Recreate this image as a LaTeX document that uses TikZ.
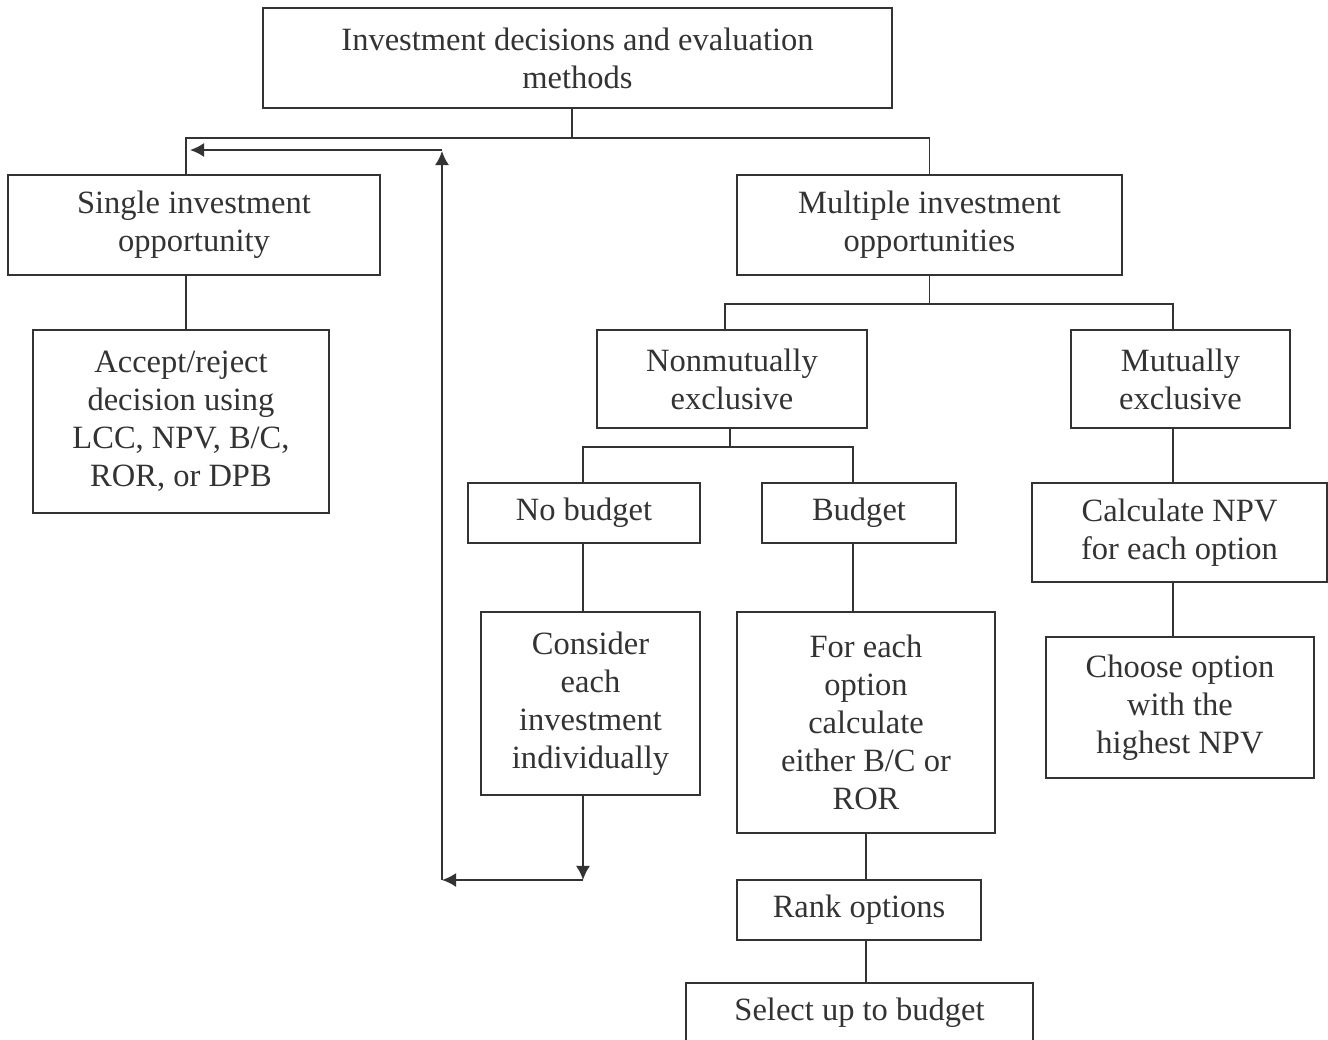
\documentclass[tikz,border=0pt]{standalone}
\usepackage{fontspec}
\setmainfont{Liberation Serif}
\usetikzlibrary{arrows.meta,positioning}
\definecolor{inkgray}{HTML}{333333}

\begin{document}
\begin{tikzpicture}[x=0.02cm,y=-0.02cm,
  box/.style={draw=inkgray, line width=1.1pt, align=center, inner sep=0pt,
    text=inkgray, font=\fontsize{18.5}{21.6}\selectfont},
  link/.style={draw=inkgray, line width=1.1pt},
  back/.style={link, -{Latex[length=8pt,width=8pt]}}]
  \useasboundingbox (0,0) rectangle (1328,1040);

  % Boxes of the tree
  \node[box, minimum width=12.58cm, minimum height=2cm] (top) at (577.5,58)
    {Investment decisions and evaluation\\methods};
  \node[box, minimum width=7.44cm, minimum height=2cm] (single) at (194,225)
    {Single investment\\opportunity};
  \node[box, minimum width=5.92cm, minimum height=3.66cm] (accept) at (181,421.5)
    {Accept/reject\\decision using\\LCC, NPV, B/C,\\ROR, or DPB};
  \node[box, minimum width=7.7cm, minimum height=2cm] (multi) at (929.5,225)
    {Multiple investment\\opportunities};
  \node[box, minimum width=5.4cm, minimum height=1.96cm] (nonmut) at (732,379)
    {Nonmutually\\exclusive};
  \node[box, minimum width=4.38cm, minimum height=1.96cm] (mut) at (1180.5,379)
    {Mutually\\exclusive};
  \node[box, minimum width=4.64cm, minimum height=1.2cm] (nobud) at (584,513)
    {No budget};
  \node[box, minimum width=3.88cm, minimum height=1.2cm] (bud) at (859,513)
    {Budget};
  \node[box, minimum width=5.9cm, minimum height=1.98cm] (calc) at (1179.5,532.5)
    {Calculate NPV\\for each option};
  \node[box, minimum width=4.38cm, minimum height=3.66cm] (consider) at (590.5,703.5)
    {Consider\\each\\investment\\individually};
  \node[box, minimum width=5.16cm, minimum height=4.42cm] (foreach) at (866,722.5)
    {For each\\option\\calculate\\either B/C or\\ROR};
  \node[box, minimum width=5.36cm, minimum height=2.82cm] (choose) at (1180,707.5)
    {Choose option\\with the\\highest NPV};
  \node[box, minimum width=4.88cm, minimum height=1.2cm] (rank) at (859,910)
    {Rank options};
  \node[box, minimum width=6.94cm, minimum height=1.2cm] (select) at (859.5,1013)
    {Select up to budget};

  % Tree links
  \draw[link] ([xshift=-0.11cm]top.south) -- +(0,29) -| ([xshift=-0.16cm]single.north);
  \draw[link] ([xshift=-0.11cm]top.south) -- +(0,29) -| (multi.north);
  \draw[link] ([xshift=-0.16cm]single.south) -- ([xshift=-0.16cm]single.south |- accept.north);
  \draw[link] (multi.south) -- +(0,28) -| ([xshift=-0.14cm]nonmut.north);
  \draw[link] (multi.south) -- +(0,28) -| ([xshift=-0.15cm]mut.north);
  \draw[link] ([xshift=-0.04cm]nonmut.south) -- +(0,18) -| ([xshift=-0.02cm]nobud.north);
  \draw[link] ([xshift=-0.04cm]nonmut.south) -- +(0,18) -| ([xshift=-0.12cm]bud.north);
  \draw[link] ([xshift=-0.15cm]mut.south) -- ([xshift=-0.15cm]mut.south |- calc.north);
  \draw[link] ([xshift=-0.15cm]mut.south |- calc.south) -- ([xshift=-0.15cm]mut.south |- choose.north);
  \draw[link] ([xshift=-0.02cm]nobud.south) -- ([xshift=-0.02cm]nobud.south |- consider.north);
  \draw[link] ([xshift=-0.12cm]bud.south) -- ([xshift=-0.12cm]bud.south |- foreach.north);
  \draw[link] (foreach.south) -- (foreach.south |- rank.north);
  \draw[link] (foreach.south |- rank.south) -- (foreach.south |- select.north);

  % Loop back from the individual check
  \coordinate (loopa) at (583,880);
  \coordinate (loopb) at (442,880);
  \coordinate (loopc) at (442,151);
  \coordinate (loopd) at (442,150);
  \coordinate (loope) at (190,150);
  \draw[back] (loopa |- consider.south) -- (loopa);
  \draw[back] (loopa) -- (loopb);
  \draw[back] (loopb) -- (loopc);
  \draw[back] (loopd) -- (loope);
\end{tikzpicture}
\end{document}
